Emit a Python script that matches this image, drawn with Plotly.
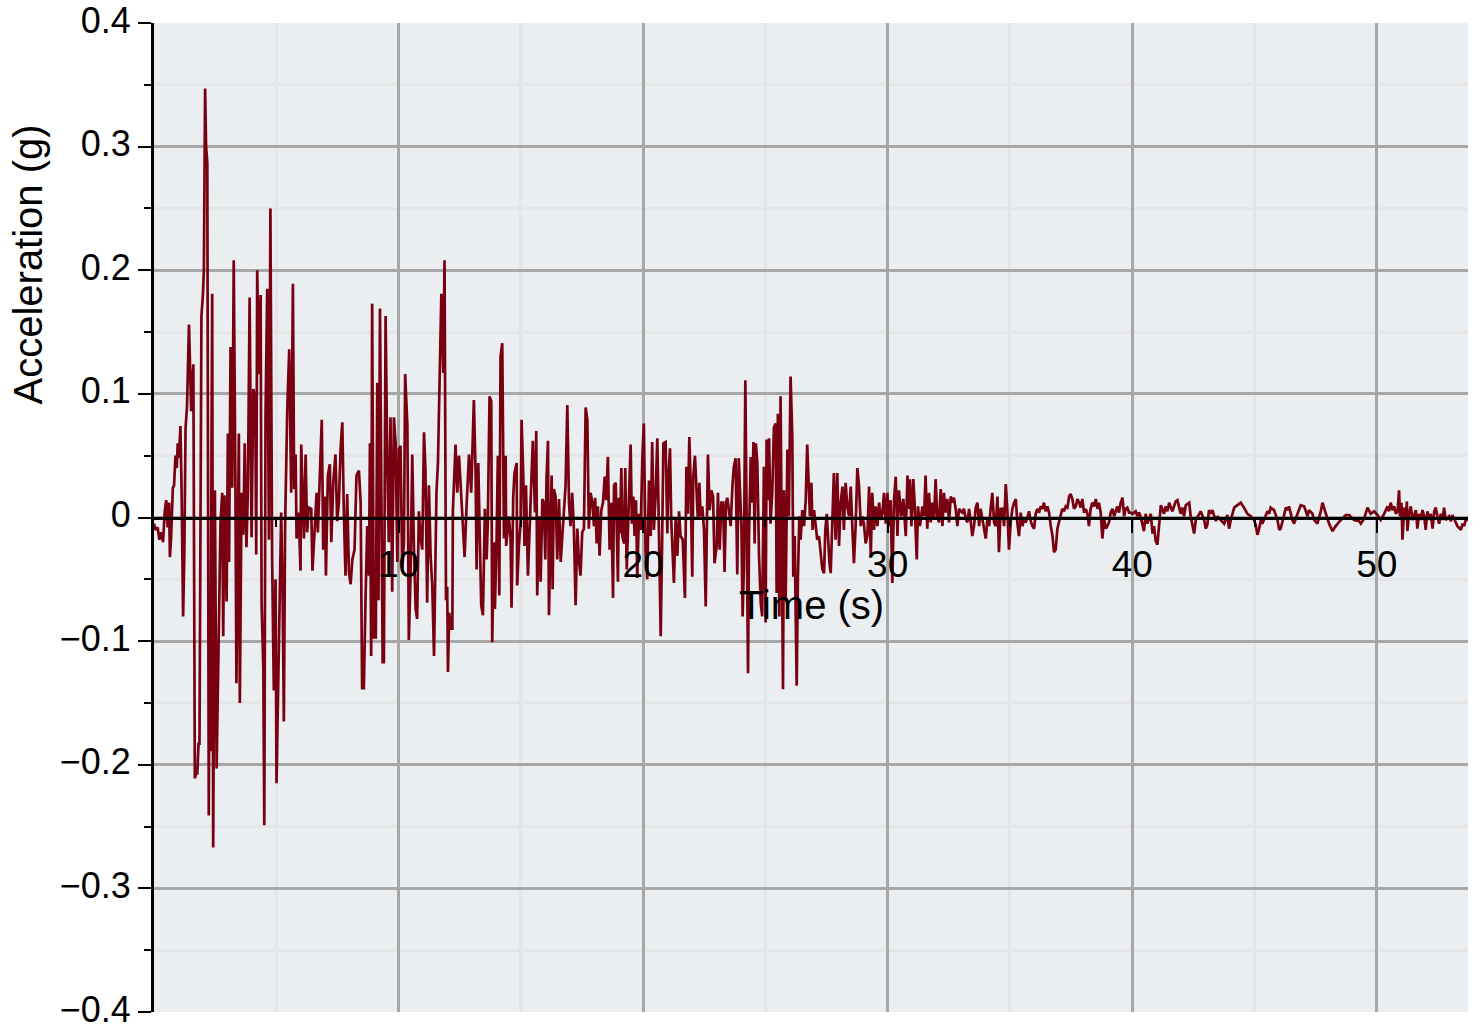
import plotly.graph_objects as go

# ---- data (time in s, acceleration in g) ----
t1 = [0.00,0.06,0.15,0.22,0.30,0.37,0.44,0.50,0.56,0.62,0.65,0.70,0.77,0.82,0.88,0.93,0.97,1.02,1.08,1.13,1.19,1.24,1.29,1.35,1.43,1.48,1.52,1.57,1.61,1.67,1.72,1.77,1.82,1.86,1.90,1.94,2.00,2.04,2.09,2.13,2.18,2.24,2.27,2.31,2.35,2.38,2.42,2.46,2.49,2.56,2.62,2.67,2.72,2.79,2.83,2.88,2.97,3.02,3.07,3.13,3.20,3.26,3.30,3.33,3.37,3.42,3.47,3.51,3.55,3.58,3.65,3.71,3.78,3.84,3.91,3.95,3.99,4.06,4.14,4.18,4.22,4.29,4.36,4.40,4.47,4.51,4.56,4.63,4.70,4.76,4.83,4.90,4.97,5.01,5.11,5.17,5.20,5.26,5.31,5.36,5.45,5.53,5.61,5.68]
a1 = [-0.005,-0.010,-0.008,-0.018,-0.012,-0.020,0.005,0.014,-0.008,0.012,-0.032,-0.016,0.024,0.026,0.050,0.040,0.060,0.048,0.074,0.020,-0.080,-0.030,0.072,0.090,0.156,0.110,0.086,0.110,0.124,-0.211,-0.207,-0.207,-0.183,-0.183,-0.048,0.163,0.180,0.201,0.347,0.300,0.287,-0.241,-0.100,-0.189,0.050,0.181,-0.267,-0.100,0.022,-0.203,-0.122,-0.060,-0.004,0.020,-0.096,0.018,-0.068,0.068,-0.036,0.138,0.024,0.208,0.030,0.024,-0.134,-0.020,0.068,-0.150,-0.050,0.020,-0.014,0.060,-0.024,0.022,0.178,0.050,-0.016,0.104,0.096,-0.030,0.200,0.116,0.180,-0.070,-0.122,-0.249,0.082,0.185,-0.018,0.250,-0.032,-0.140,-0.050,-0.215,-0.114,-0.052,0.004,-0.064,-0.165,-0.008,0.088,0.136,0.020,0.189]

t2 = [5.73,5.79,5.83,5.92,5.99,6.02,6.07,6.13,6.20,6.26,6.33,6.43,6.48,6.56,6.65,6.70,6.78,6.86,6.92,6.99,7.03,7.11,7.19,7.25,7.33,7.42,7.49,7.56,7.63,7.70,7.76,7.83,7.90,7.97,8.04,8.11,8.20,8.28,8.38,8.45,8.51,8.58,8.65,8.72,8.79,8.83,8.88,8.92,8.99,9.07,9.13,9.18,9.24,9.29,9.35,9.40,9.47,9.54,9.60,9.67,9.74,9.81,9.88,9.95,10.01,10.08,10.15,10.22,10.27,10.36,10.42,10.49,10.56,10.63,10.70,10.76,10.83,10.90,10.97,11.04,11.10,11.17,11.24,11.31,11.38,11.45,11.50,11.55,11.61,11.68,11.75,11.83,11.88,11.94,11.99,12.02,12.07,12.13]
a2 = [0.023,0.051,-0.017,0.004,-0.043,0.059,0.023,-0.017,0.051,-0.012,0.008,0.007,-0.043,-0.011,0.020,-0.012,0.034,0.079,-0.026,0.017,-0.047,0.034,0.043,-0.020,0.028,0.051,-0.003,0.012,0.056,0.077,0.007,-0.047,0.019,-0.044,-0.054,-0.034,-0.026,0.034,0.038,0.012,-0.138,-0.138,-0.066,-0.007,-0.047,0.060,-0.112,0.173,-0.097,-0.097,0.109,-0.067,0.169,-0.009,-0.117,-0.117,0.163,0.044,-0.020,0.081,-0.060,0.081,0.060,-0.036,0.055,0.058,-0.042,-0.020,0.116,0.075,-0.099,-0.047,0.051,-0.026,-0.074,-0.082,0.005,-0.017,-0.026,0.069,0.038,-0.069,0.026,-0.031,-0.056,-0.112,-0.052,0.020,0.044,0.109,0.181,0.117,0.208,-0.067,-0.056,-0.125,-0.077,-0.090]

t3 = [12.20,12.22,12.33,12.40,12.47,12.54,12.65,12.70,12.78,12.88,12.97,13.03,13.08,13.15,13.19,13.26,13.33,13.38,13.45,13.53,13.60,13.65,13.72,13.79,13.83,13.90,13.94,14.01,14.06,14.12,14.17,14.24,14.31,14.38,14.40,14.51,14.58,14.62,14.69,14.74,14.83,14.85,14.92,14.99,15.03,15.10,15.15,15.21,15.29,15.35,15.40,15.49,15.58,15.63,15.67,15.74,15.81,15.88,15.94,16.00,16.05,16.11,16.15,16.22,16.26,16.30,16.35,16.42,16.49,16.56,16.63,16.69,16.76,16.83,16.90,16.97,17.03,17.10,17.17,17.24,17.31,17.37,17.44,17.51,17.58,17.65,17.72,17.78,17.85]
a3 = [-0.090,0.005,0.059,0.020,0.050,0.026,-0.015,-0.032,0.009,0.051,0.020,0.058,0.095,0.036,-0.042,0.044,-0.036,-0.071,-0.079,0.007,-0.034,-0.004,0.098,0.094,-0.101,-0.020,-0.074,-0.017,0.050,-0.063,0.130,0.141,-0.017,0.050,-0.023,0.001,-0.017,-0.073,0.017,0.036,0.044,-0.055,-0.023,-0.004,0.079,0.034,-0.023,0.026,-0.047,-0.015,0.012,0.062,0.004,0.070,-0.063,0.001,-0.052,0.015,0.012,-0.034,0.031,0.062,-0.079,-0.004,0.034,-0.058,0.023,0.017,-0.034,0.015,-0.036,-0.017,0.007,0.026,0.091,0.012,-0.007,0.020,-0.009,-0.071,-0.009,-0.034,-0.047,-0.012,-0.009,0.089,0.079,-0.009,0.020]

t4 = [17.92,17.99,18.04,18.10,18.15,18.22,18.29,18.36,18.43,18.49,18.56,18.63,18.70,18.77,18.81,18.88,18.92,18.97,19.01,19.05,19.11,19.15,19.22,19.27,19.33,19.38,19.44,19.49,19.54,19.60,19.65,19.71,19.76,19.83,19.90,19.97,20.03,20.10,20.17,20.24,20.31,20.37,20.44,20.51,20.58,20.65,20.72,20.78,20.83,20.92,20.99,21.04,21.10,21.15,21.21,21.26,21.33,21.40,21.47,21.53,21.62,21.67,21.71,21.77,21.83,21.89,21.94,22.01,22.05,22.12,22.19,22.24,22.30,22.35,22.42,22.49,22.56,22.60,22.65,22.72,22.79,22.86,22.92,23.01,23.06,23.13,23.20,23.27,23.33,23.39,23.44,23.51,23.58,23.65,23.71,23.78,23.85,23.91,23.96,24.02,24.07]
a4 = [0.013,-0.007,0.016,-0.021,0.009,-0.031,0.006,0.012,0.033,0.014,0.049,-0.026,0.012,-0.065,0.026,0.028,-0.005,-0.052,0.016,-0.013,0.040,-0.015,-0.021,0.040,-0.042,0.001,0.028,0.059,-0.005,0.017,-0.015,0.014,-0.049,0.003,-0.010,0.049,0.076,-0.026,-0.050,0.030,-0.015,0.061,-0.010,0.017,0.064,-0.015,-0.096,-0.015,0.060,0.061,-0.013,0.033,0.056,-0.002,-0.037,-0.053,-0.002,-0.031,0.005,-0.015,-0.018,-0.050,-0.065,0.041,0.003,0.065,0.030,-0.048,0.033,0.050,0.020,-0.002,0.028,0.001,0.009,-0.010,-0.072,-0.002,0.051,0.006,0.022,0.017,-0.037,-0.023,0.020,-0.026,0.012,0.012,-0.044,0.012,0.016,0.006,-0.007,0.025,0.041,0.048,-0.046,0.048,0.017,-0.007,-0.080]

t5 = [24.12,24.18,24.23,24.29,24.33,24.40,24.47,24.51,24.56,24.61,24.67,24.74,24.81,24.87,24.94,25.01,25.05,25.11,25.15,25.21,25.28,25.35,25.42,25.46,25.51,25.57,25.62,25.68,25.72,25.76,25.83,25.90,25.96,26.03,26.10,26.14,26.20,26.24,26.28,26.33,26.39,26.44,26.51,26.58,26.65,26.71,26.78,26.82,26.88,26.93,26.99,27.06,27.12,27.19,27.26,27.33,27.40,27.45,27.51,27.56,27.62,27.67,27.74,27.80,27.87,27.94,28.01,28.08,28.15,28.21,28.28,28.35,28.42,28.49,28.56,28.62,28.69,28.76,28.83,28.90,28.96,29.03,29.10,29.17,29.24,29.31,29.37,29.44,29.51,29.58,29.65,29.71,29.78,29.85,29.92,29.99,30.05,30.12,30.19,30.26,30.33,30.40,30.46,30.53]
a5 = [-0.040,0.111,0.012,-0.126,-0.015,0.049,0.012,0.061,-0.021,0.060,0.044,-0.031,-0.069,-0.080,0.041,-0.085,0.063,0.014,0.064,-0.005,0.020,0.073,0.076,-0.061,0.084,-0.080,0.098,-0.101,-0.139,0.022,-0.066,0.055,0.001,0.114,0.065,-0.048,-0.015,-0.080,-0.136,-0.048,0.001,-0.018,0.006,-0.007,0.014,0.059,0.030,0.001,0.028,-0.010,0.006,-0.005,-0.018,-0.015,-0.027,-0.042,-0.045,-0.010,0.003,-0.018,-0.037,-0.045,-0.002,0.036,-0.018,0.036,-0.023,0.012,0.025,-0.010,0.028,0.009,0.001,0.025,-0.010,-0.037,-0.007,0.040,0.025,-0.007,0.001,-0.005,-0.021,-0.015,0.025,-0.031,0.020,-0.010,0.009,-0.007,0.012,-0.002,0.003,0.020,-0.005,0.020,-0.007,0.014,-0.053,0.014,0.033,-0.015,0.022,0.006]

t6 = [30.56,30.64,30.74,30.81,30.87,30.91,30.97,31.05,31.10,31.19,31.24,31.32,31.42,31.49,31.55,31.62,31.69,31.76,31.83,31.90,31.96,32.03,32.10,32.17,32.24,32.30,32.37,32.44,32.51,32.58,32.65,32.71,32.78,32.85,32.92,32.99,33.05,33.12,33.19,33.26,33.33,33.40,33.46,33.53,33.60,33.67,33.74,33.80,33.87,33.94,34.01,34.08,34.15,34.21,34.28,34.35,34.42,34.49,34.55,34.62,34.69,34.76,34.83,34.90,34.96,35.03,35.10,35.17,35.24,35.30,35.37,35.44,35.51,35.58,35.64,35.71,35.78,35.85,35.92,35.99,36.05,36.12,36.19,36.26,36.33,36.39,36.46,36.53,36.60,36.67,36.74,36.80,36.87,36.94,37.01,37.08,37.14,37.21,37.28,37.35,37.42,37.48,37.55,37.62,37.69,37.76,37.83,37.89,37.96,38.03,38.10,38.17,38.23,38.30,38.37,38.44,38.51,38.58,38.64,38.71,38.78,38.85,38.92,38.98,39.05,39.12,39.19,39.26,39.33,39.39,39.46,39.53,39.60,39.67,39.73,39.80,39.87,39.94,40.01,40.08,40.14,40.21,40.28]
a6 = [0.001,0.015,-0.015,0.034,0.007,0.031,-0.007,0.031,0.012,-0.034,0.009,-0.007,0.009,0.001,0.034,-0.009,0.020,-0.004,0.012,-0.001,0.031,0.001,-0.004,0.023,-0.007,0.020,0.004,0.015,-0.004,0.017,0.012,0.016,0.007,-0.007,0.007,0.005,0.004,0.007,-0.001,-0.004,0.007,-0.004,-0.015,-0.007,0.008,0.012,-0.007,0.007,0.000,-0.009,-0.017,-0.001,-0.007,0.007,0.020,-0.004,-0.007,0.017,-0.028,0.007,0.007,-0.007,0.027,0.004,-0.026,-0.004,0.007,0.012,0.015,-0.004,-0.015,0.004,-0.007,-0.001,-0.004,0.000,0.005,-0.003,-0.007,-0.009,0.003,0.007,0.004,0.009,0.007,0.012,0.005,0.009,0.004,-0.007,-0.015,-0.028,-0.026,-0.009,-0.004,0.001,0.007,0.005,0.009,0.008,0.017,0.019,0.015,0.007,0.009,0.015,0.012,0.008,0.015,0.004,0.007,0.003,-0.007,0.007,0.012,0.009,0.015,0.007,0.012,0.004,-0.017,-0.001,-0.009,-0.007,-0.004,0.004,0.007,0.001,0.005,0.009,0.004,0.012,0.016,0.001,0.007,0.008,0.004,0.004,0.003,0.004,0.005,0.001,0.004]

t7 = [40.35,40.48,40.55,40.62,40.76,40.83,40.89,40.96,41.03,41.10,41.17,41.30,41.37,41.44,41.51,41.64,41.78,41.85,41.98,42.05,42.12,42.19,42.33,42.39,42.53,42.60,42.73,42.80,42.94,43.01,43.07,43.14,43.21,43.28,43.42,43.48,43.62,43.76,43.89,43.96,44.03,44.17,44.30,44.44,44.57,44.71,44.85,44.98,45.05,45.12,45.19,45.26,45.32,45.46,45.53,45.60,45.66,45.80,45.94,46.01,46.07,46.21,46.28,46.35,46.41,46.55,46.62,46.76,46.89,47.03,47.17,47.23,47.37,47.44,47.57,47.71,47.78,47.92,48.05,48.19,48.32,48.53,48.73,48.87,49.07,49.28,49.35,49.48,49.62,49.75,49.89,50.03,50.16,50.30,50.44,50.50,50.57,50.64,50.71,50.78,50.85,50.91,50.95,51.01,51.05,51.12,51.19,51.23,51.25,51.32,51.39,51.46,51.53,51.60,51.66,51.73,51.80,51.87,51.94,52.00,52.07,52.14,52.21,52.28,52.35,52.41,52.48,52.55,52.62,52.69,52.75,52.82,52.96,53.03,53.09,53.23,53.30,53.44,53.51,53.57,53.64,53.78]
a7 = [0.000,-0.011,0.003,-0.005,0.003,-0.013,-0.007,-0.019,-0.022,-0.005,0.010,0.003,0.009,0.005,0.012,0.005,0.013,0.014,0.003,0.008,0.001,0.010,0.012,0.001,-0.013,-0.002,0.003,0.005,-0.002,-0.009,-0.006,0.006,0.003,0.006,-0.003,0.001,-0.002,-0.005,0.002,-0.009,-0.002,0.008,0.010,0.012,0.008,0.003,0.001,-0.002,-0.006,-0.014,-0.009,-0.002,-0.005,0.001,0.005,0.003,0.008,0.006,-0.002,-0.010,-0.009,0.002,0.008,0.006,0.009,-0.002,-0.005,0.003,0.010,0.009,0.001,0.006,0.003,-0.002,-0.005,0.005,0.012,0.003,-0.005,-0.011,-0.007,-0.002,0.002,0.002,-0.002,-0.003,-0.005,-0.001,0.008,0.003,0.005,0.002,-0.002,0.003,0.009,0.005,0.012,0.006,0.009,0.003,0.005,0.022,0.001,0.012,-0.018,0.008,-0.002,0.013,-0.011,0.003,0.009,-0.002,0.003,0.006,-0.009,0.003,-0.002,0.006,0.001,-0.010,0.005,-0.002,0.003,-0.009,0.005,0.008,0.001,-0.005,0.003,-0.002,0.008,-0.002,0.001,-0.003,0.002,-0.005,-0.007,-0.010,-0.005,-0.007,-0.002,-0.002]

x_ticks = [10, 20, 30, 40, 50]
x_minor = [5, 15, 25, 35, 45]
y_ticks = [-0.4, -0.3, -0.2, -0.1, 0, 0.1, 0.2, 0.3, 0.4]
y_minor = [-0.35, -0.25, -0.15, -0.05, 0.05, 0.15, 0.25, 0.35]
x_title = "Time (s)"
y_title = "Acceleration (g)"

segments = [(t1, a1), (t2, a2), (t3, a3), (t4, a4), (t5, a5), (t6, a6), (t7, a7)]
time, accel = [], []
for ts, acc in segments:
    assert len(ts) == len(acc), (len(ts), len(acc))
    time.extend(ts)
    accel.extend(acc)

W, H = 1481, 1030
ML, MR, MT, MB = 154, 13, 23, 18
PW, PH = W - ML - MR, H - MT - MB

MAJOR_GRID = "#A7A7A7"
MINOR_GRID = "#E3E5E7"
FONT = "Liberation Sans, Arial, Helvetica, sans-serif"

fig = go.Figure(go.Scatter(x=time, y=accel, mode="lines",
                           line=dict(color="#780010", width=2.7),
                           hoverinfo="skip", showlegend=False))

fig.update_layout(
    width=W, height=H,
    paper_bgcolor="white", plot_bgcolor="#EBEEF0",
    margin=dict(l=ML, r=MR, t=MT, b=MB, autoexpand=False),
    font=dict(family=FONT, size=37, color="black"),
    showlegend=False,
    xaxis=dict(
        range=[0, 53.73], tickmode="array", tickvals=x_ticks,
        ticks="outside", ticklen=13, tickwidth=2, tickcolor="black",
        showline=True, linecolor="black", linewidth=3,
        anchor="free", position=0.5,
        showgrid=True, gridcolor=MAJOR_GRID, gridwidth=2.5,
        zeroline=False,
        tickfont=dict(size=37),
        ticklabeloverflow="allow",
        minor=dict(tickmode="array", tickvals=x_minor, ticks="outside", ticklen=7,
                   tickwidth=2, tickcolor="black",
                   showgrid=True, gridcolor=MINOR_GRID, gridwidth=2.5),
    ),
    yaxis=dict(
        range=[-0.4, 0.4], tickmode="array", tickvals=y_ticks,
        ticks="outside", ticklen=13, tickwidth=2, tickcolor="black",
        showline=True, linecolor="black", linewidth=3,
        showgrid=True, gridcolor=MAJOR_GRID, gridwidth=2.5,
        zeroline=False,
        tickfont=dict(size=36),
        ticklabelshift=-3,
        ticklabeloverflow="allow",
        minor=dict(tickmode="array", tickvals=y_minor, ticks="outside", ticklen=7,
                   tickwidth=2, tickcolor="black",
                   showgrid=True, gridcolor=MINOR_GRID, gridwidth=2.5),
    ),
    annotations=[
        dict(text=y_title, xref="paper", yref="paper",
             x=(27.5 - ML) / PW, y=(H - MB - 265) / PH,
             textangle=-90, showarrow=False, xanchor="center", yanchor="middle",
             font=dict(size=40, family=FONT, color="black")),
        dict(text=x_title, xref="paper", yref="paper",
             x=0.5, y=(H - MB - 605) / PH,
             showarrow=False, xanchor="center", yanchor="middle",
             font=dict(size=40, family=FONT, color="black")),
    ],
)

fig.write_html("out.html",
               config={"displayModeBar": False},
               post_script="document.body.style.margin='0';document.body.style.padding='0';")
